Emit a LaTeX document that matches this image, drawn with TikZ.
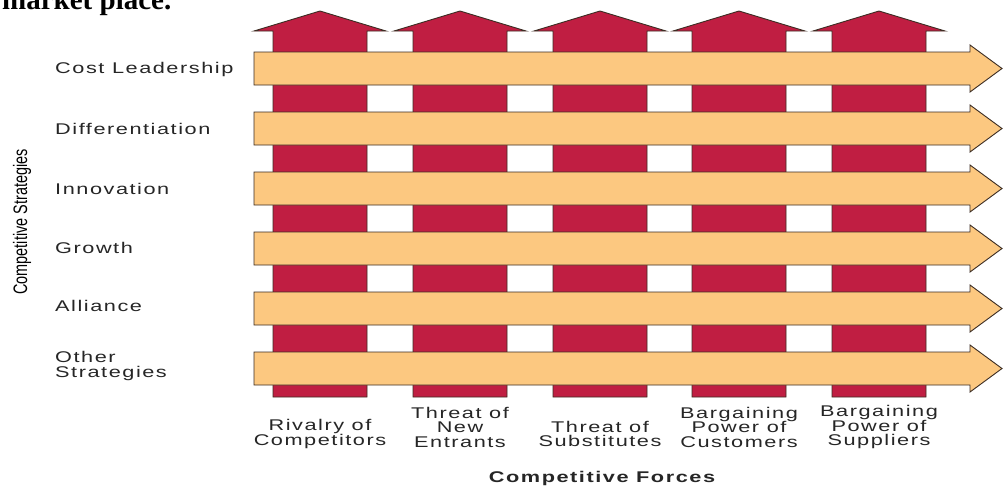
\documentclass[tikz,border=0pt]{standalone}
\usepackage{fontspec}
\setmainfont{Liberation Serif}
\newfontfamily\lblfont[FakeStretch=1.4,LetterSpace=10]{Liberation Sans}
\newfontfamily\axisfont[FakeStretch=0.74]{Liberation Sans}
\usetikzlibrary{positioning}
\definecolor{ForceRed}{RGB}{192,30,66}
\definecolor{StratPeach}{RGB}{252,200,128}
\definecolor{EdgeDark}{RGB}{60,45,35}

\begin{document}
\begin{tikzpicture}[
    x=1pt, y=-1pt,
    every node/.style={inner sep=0pt, text=black!85},
    forcearrow/.style={fill=ForceRed, draw=EdgeDark, line width=0.9pt},
    stratarrow/.style={fill=StratPeach, draw=EdgeDark, line width=0.9pt},
    stratlabel/.style={font=\lblfont\fontsize{15.5}{14.5}\selectfont, anchor=west, align=left},
    forcelabel/.style={font=\lblfont\fontsize{15.5}{14.5}\selectfont, align=center},
]
\useasboundingbox (0,0) rectangle (1003,485);
\fill[white] (0,0) rectangle (1003,485);
% caption cut off by the page edge
\begin{scope}
  \clip (0,0) rectangle (1003,485);
  \node[anchor=base west, font=\bfseries\fontsize{29}{29}\selectfont, text=black] (caption) at (2,9.5) {market place.};
\end{scope}
% competitive forces
\foreach \c in {320,460,600,739,879}
  \draw[forcearrow] (\c-47,397) -- (\c-47,31) -- (\c-66,31) -- (\c,11) -- (\c+66,31) -- (\c+47,31) -- (\c+47,397) -- cycle;
% competitive strategies
\foreach \t in {52,112,172,232,292,352}
  \draw[stratarrow] (254,\t) -- (970,\t) -- (970,\t-7) -- (1002,\t+16.5) -- (970,\t+40) -- (970,\t+33) -- (254,\t+33) -- cycle;

\node[stratlabel] (cost) at (55,69) {Cost Leadership};
\node[stratlabel] (diff) at (55,129) {Differentiation};
\node[stratlabel] (inno) at (55,189) {Innovation};
\node[stratlabel] (grow) at (55,248) {Growth};
\node[stratlabel] (alli) at (55,306) {Alliance};
\node[stratlabel] (other) at (55,366) {Other\\Strategies};
\node[rotate=90, font=\axisfont\fontsize{19.5}{19.5}\selectfont, text=black] (strataxis) at (22,222) {Competitive Strategies};

\node[forcelabel] (rival) at (320,434) {Rivalry of\\Competitors};
\node[forcelabel] (entrants) at (460,427) {Threat of\\New\\Entrants};
\node[forcelabel] (subst) at (600,434) {Threat of\\Substitutes};
\node[forcelabel] (buyers) at (739,427) {Bargaining\\Power of\\Customers};
\node[forcelabel] (suppliers) at (879,427) {Bargaining\\Power of\\Suppliers};
\node[font=\lblfont\bfseries\fontsize{15.5}{14.5}\selectfont] (forceaxis) at (602,478) {Competitive Forces};
\end{tikzpicture}
\end{document}
